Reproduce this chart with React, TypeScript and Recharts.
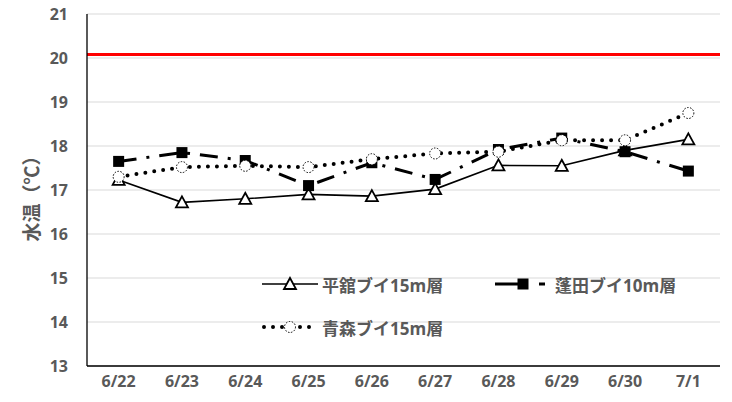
import React from 'react';
import {
  ComposedChart, Line, XAxis, YAxis, CartesianGrid, ReferenceLine,
} from 'recharts';

const dates = ['6/22', '6/23', '6/24', '6/25', '6/26', '6/27', '6/28', '6/29', '6/30', '7/1'];
const tairadate = [17.23, 16.72, 16.8, 16.9, 16.86, 17.02, 17.56, 17.55, 17.9, 18.15];   // 平舘ブイ15m層
const yomogita = [17.65, 17.85, 17.67, 17.1, 17.62, 17.24, 17.92, 18.18, 17.87, 17.43]; // 蓬田ブイ10m層
const aomori = [17.3, 17.52, 17.55, 17.52, 17.7, 17.83, 17.87, 18.13, 18.13, 18.75];    // 青森ブイ15m層
const yTicks = [13, 14, 15, 16, 17, 18, 19, 20, 21];
const threshold = 20.08;

const data = dates.map((d, i) => ({
  x: i + 0.5,
  date: d,
  taira: tairadate[i],
  yomo: yomogita[i],
  aomori: aomori[i],
}));

const FONT = "'Open Sans', 'Noto Sans CJK JP', sans-serif";
const GRAY = '#595959';

const Tri = (p: any) => {
  const { cx, cy } = p;
  if (cx == null || cy == null) return <g key={p.key} />;
  return (
    <path key={p.key} d={`M${cx},${cy - 6} L${cx + 6},${cy + 5} L${cx - 6},${cy + 5} Z`}
          fill="#fff" stroke="#000" strokeWidth={1.8} strokeLinejoin="miter" />
  );
};
const Sq = (p: any) => {
  const { cx, cy } = p;
  if (cx == null || cy == null) return <g key={p.key} />;
  return <rect key={p.key} x={cx - 5.5} y={cy - 5.5} width={11} height={11} fill="#000" />;
};
const Circ = (p: any) => {
  const { cx, cy } = p;
  if (cx == null || cy == null) return <g key={p.key} />;
  return <circle key={p.key} cx={cx} cy={cy} r={5.5} fill="#fff" stroke="#000" strokeWidth={1} strokeDasharray="1.5 1.5" />;
};

const legendItems = [
  { name: '平舘ブイ15m層', kind: 'tri' },
  { name: '蓬田ブイ10m層', kind: 'sq' },
  { name: '青森ブイ15m層', kind: 'circ' },
];

const LegendIcon = ({ kind }: { kind: string }) => (
  <svg width={56} height={16} style={{ display: 'block' }}>
    {kind === 'tri' && <line x1={0} y1={8} x2={56} y2={8} stroke="#000" strokeWidth={1.5} />}
    {kind === 'sq' && <line x1={0} y1={8} x2={56} y2={8} stroke="#000" strokeWidth={3} strokeDasharray="30 14 6 20" />}
    {kind === 'circ' && <line x1={2} y1={8} x2={56} y2={8} stroke="#000" strokeWidth={4} strokeLinecap="round" strokeDasharray="0 9" />}
    {kind === 'tri' && <Tri cx={28} cy={8} />}
    {kind === 'sq' && <Sq cx={28} cy={8} />}
    {kind === 'circ' && <Circ cx={28} cy={8} />}
  </svg>
);

const ChartLegend = () => (
  <div style={{ position: 'absolute', left: 262, top: 274, display: 'grid', gridTemplateColumns: '233px 200px', rowGap: 23 }}>
    {legendItems.map(it => (
      <div key={it.name} style={{ display: 'flex', alignItems: 'center', height: 20 }}>
        <LegendIcon kind={it.kind} />
        <span style={{ marginLeft: 4, fontFamily: FONT, fontWeight: 700, fontSize: 17, color: GRAY, whiteSpace: 'nowrap' }}>
          {it.name}
        </span>
      </div>
    ))}
  </div>
);

const YLabel = (props: any) => {
  const vb = props.viewBox || { x: 0, y: 0, width: 87, height: 352 };
  const cx = vb.x + 32;
  const cy = vb.y + vb.height / 2 + 4;
  return (
    <text x={cx} y={cy} transform={`rotate(-90 ${cx} ${cy})`} textAnchor="middle" dominantBaseline="central"
          fontFamily={FONT} fontWeight={700} fontSize={19} fill={GRAY}>
      水温（℃）
    </text>
  );
};

export default function App() {
  return (
    <div style={{ position: 'absolute', left: 0, top: 0, width: 732, height: 402, background: '#fff' }}>
      <ComposedChart width={732} height={402} data={data}
                     margin={{ top: 14, right: 12, bottom: 0, left: 0 }}>
        <CartesianGrid vertical={false} stroke="#d9d9d9" strokeWidth={1} xAxisId="lab" />
        <XAxis xAxisId="grid" dataKey="x" type="number" domain={[0, 10]} ticks={[0, 1, 2, 3, 4, 5, 6, 7, 8, 9, 10]}
               tick={false} tickSize={6} tickLine={{ stroke: '#000' }} axisLine={{ stroke: '#000', strokeWidth: 1.3 }} height={6} />
        <XAxis xAxisId="lab" dataKey="x" type="number" domain={[0, 10]} ticks={data.map(d => d.x)}
               tickFormatter={(v: number) => dates[Math.floor(v)]} axisLine={false} tickLine={false} tickSize={0} tickMargin={4}
               tick={{ fill: GRAY, fontFamily: FONT, fontWeight: 700, fontSize: 16 }} height={30} />
        <YAxis domain={[13, 21]} ticks={yTicks} width={87} tickLine={false} tickSize={0} tickMargin={19}
               axisLine={{ stroke: '#000', strokeWidth: 1.3 }}
               tick={{ fill: GRAY, fontFamily: FONT, fontWeight: 700, fontSize: 16 }}
               label={{ content: (p: any) => <YLabel {...p} /> }} />
        <ReferenceLine xAxisId="lab" y={threshold} stroke="#ff0000" strokeWidth={3} />
        <Line xAxisId="lab" dataKey="taira" stroke="#000" strokeWidth={1.6} dot={Tri} activeDot={false}
              isAnimationActive={false} />
        <Line xAxisId="lab" dataKey="yomo" stroke="#000" strokeWidth={3} strokeDasharray="18 10 3 10" dot={Sq}
              activeDot={false} isAnimationActive={false} />
        <Line xAxisId="lab" dataKey="aomori" stroke="#000" strokeWidth={4} strokeLinecap="round" strokeDasharray="0 9"
              dot={Circ} activeDot={false} isAnimationActive={false} />
      </ComposedChart>
      <ChartLegend />
    </div>
  );
}
